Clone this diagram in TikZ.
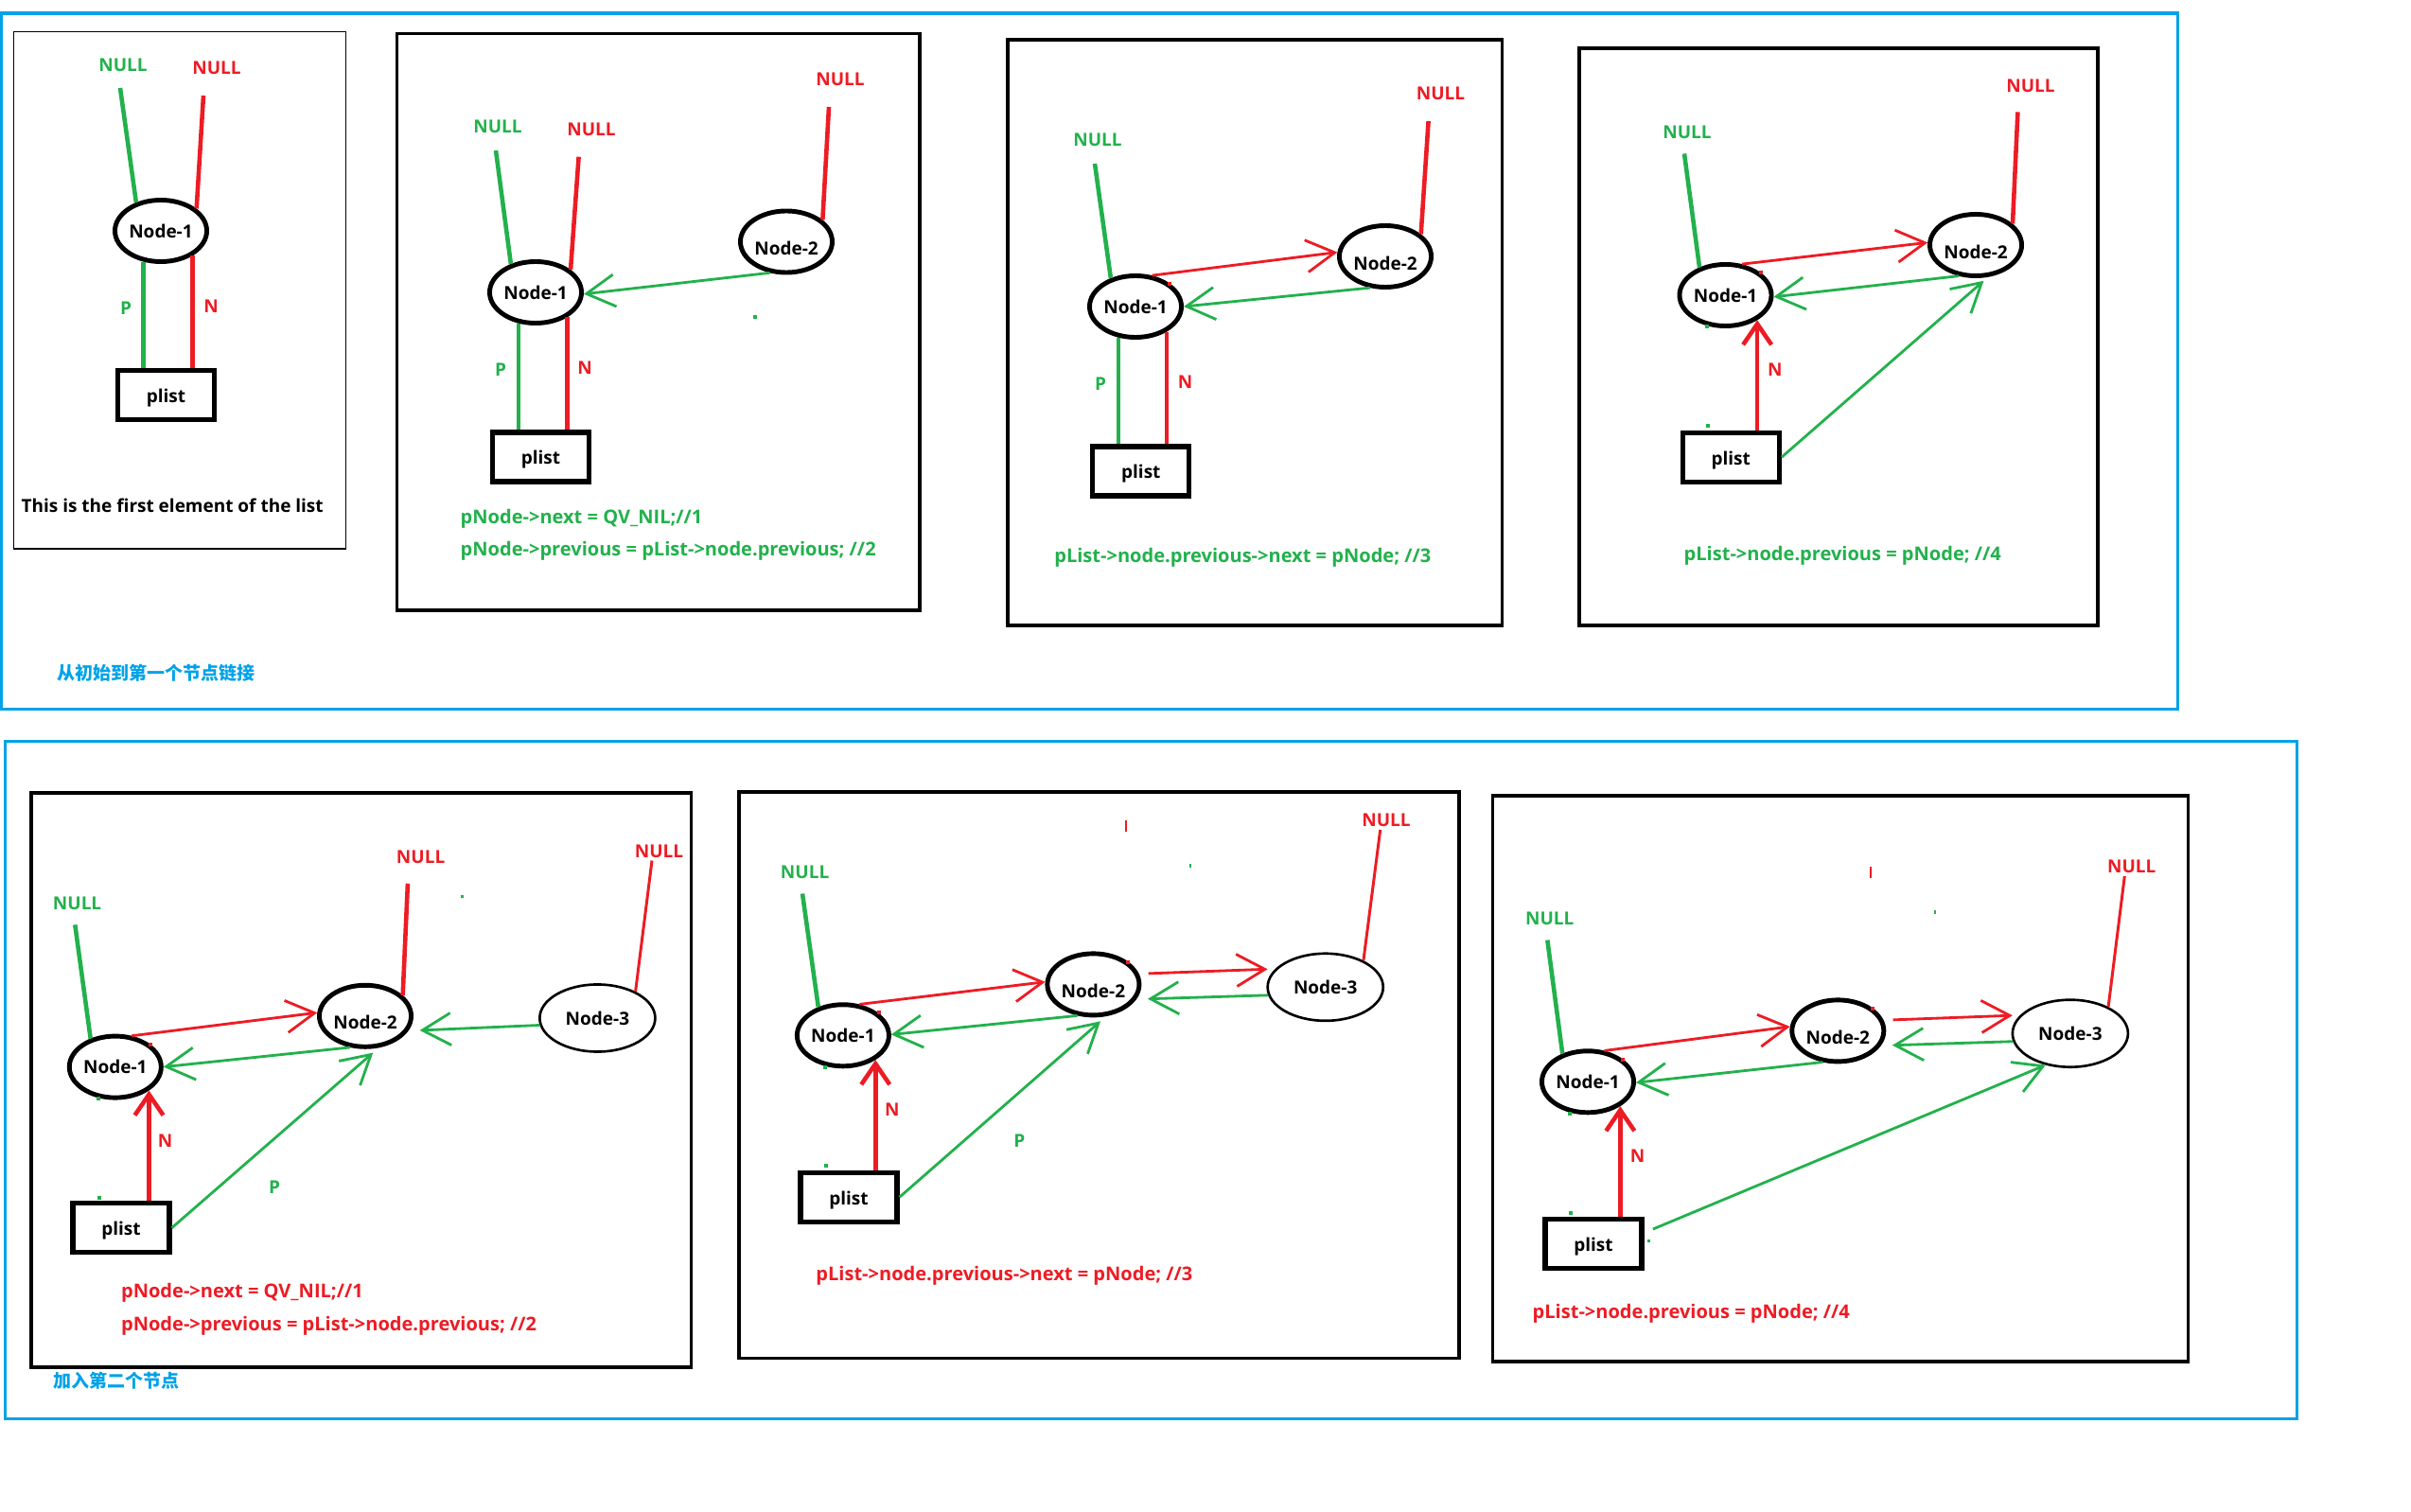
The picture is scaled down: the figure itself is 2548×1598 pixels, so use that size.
\documentclass[tikz,border=0pt]{standalone}
\usepackage{fontspec}
\setmainfont{Open Sans}
\newfontfamily\cjkfont{Noto Sans CJK SC}
\usetikzlibrary{shapes.geometric,arrows.meta}
\definecolor{pgreen}{RGB}{34,177,76}
\definecolor{pred}{RGB}{237,28,36}
\definecolor{pblue}{RGB}{0,162,232}
\newcommand\labfont{\fontsize{5.4}{6.5}\selectfont\bfseries}
\newcommand\codefont{\fontsize{5.7}{6.8}\selectfont\bfseries}
\begin{document}
\begin{tikzpicture}[x=0.01cm,y=-0.01cm,
  lbl/.style={font=\labfont, inner sep=0pt},
  gtxt/.style={lbl, text=pgreen},
  rtxt/.style={lbl, text=pred},
  codeline/.style={inner sep=0pt, anchor=west, font=\codefont},
  cjklabel/.style={inner sep=0pt, anchor=west, text=pblue, font=\cjkfont\fontsize{5.4}{6.5}\selectfont\bfseries},
  nd/.style={ellipse, draw, line width=1.4pt, minimum width=0.97cm, minimum height=0.65cm, inner sep=0pt, font=\labfont},
  ndlow/.style={nd, text height=8pt, text depth=0pt},
  ndthin/.style={ellipse, draw, line width=0.75pt, minimum width=1.22cm, minimum height=0.71cm, inner sep=0pt, font=\labfont},
  listbox/.style={draw, line width=1.5pt, minimum width=1.02cm, minimum height=0.52cm, inner sep=0pt, font=\labfont, text height=4.5pt, text depth=0pt},
  panelbox/.style={draw, line width=1pt},
  bluebox/.style={draw=pblue, line width=0.9pt},
  gthick/.style={pgreen, line width=1.3pt},
  rthick/.style={pred, line width=1.3pt},
  rthin/.style={pred, line width=0.85pt},
  barb/.style={-{Straight Barb[length=3mm,width=3.4mm]}},
  gptr/.style={pgreen, line width=0.8pt, barb},
  rptr/.style={pred, line width=0.8pt, barb},
  nptr/.style={pred, line width=1.3pt, -{Straight Barb[length=2.2mm,width=3mm]}},
  ]
\useasboundingbox (0,0) rectangle (2548,1598);

% ---------- outer frames ----------
\draw[bluebox] (1.5,14) rectangle (2301.3,749.3);
\draw[bluebox] (5.5,783.5) rectangle (2427.3,1499.3);
\node[cjklabel] (cap1) at (60,711.7) {从初始到第一个节点链接};
\node[cjklabel] (cap2) at (55.7,1459.5) {加入第二个节点};

% ---------- first element ----------
\draw[panelbox, line width=0.4pt] (14.3,33.7) rectangle (365.7,580);
\node[nd] (a1) at (170,244) {Node-1};
\node[listbox] (aL) at (175.5,417.5) {plist};
\node[gtxt] (aGN) at (130,69) {NULL};
\node[rtxt] (aRN) at (229,72) {NULL};
\coordinate (aGt) at (127,93);
\coordinate (aRt) at (215,101);
\draw[gthick] (aGt) -- (a1.131);
\draw[rthick] (aRt) -- (a1.32);
\draw[gthick] (a1.240) -- (a1.240 |- aL.north);
\draw[rthick] (a1.-38) -- (a1.-38 |- aL.north);
\node[gtxt] (aP) at (133,326) {P};
\node[rtxt] (aN) at (223,324) {N};
\node[lbl, anchor=west] (aCap) at (22,534) {This is the first element of the list};

% ---------- step 1,2 ----------
\draw[panelbox] (419.6,35.5) rectangle (972,645);
\node[nd] (b1) at (566,309) {Node-1};
\node[ndlow] (b2) at (831,255.5) {Node-2};
\node[listbox] (bL) at (571.5,483) {plist};
\node[gtxt] (bGN) at (526,133.5) {NULL};
\node[rtxt] (bRN) at (625,137) {NULL};
\node[rtxt] (bRN2) at (888,84) {NULL};
\coordinate (bGt) at (524,159);
\coordinate (bRt) at (611.6,165.7);
\coordinate (bR2t) at (876,113);
\draw[gthick] (bGt) -- (b1.131);
\draw[rthick] (bRt) -- (b1.33);
\draw[rthick] (bR2t) -- (b2.31);
\draw[gptr] (b2.242) -- (b1.-2);
\draw[gthick] (b1.241) -- (b1.241 |- bL.north);
\draw[rthick] (b1.-38) -- (b1.-38 |- bL.north);
\node[gtxt] (bP) at (529,391) {P};
\node[rtxt] (bN) at (618,389) {N};
\node[codeline, text=pgreen] (bC1) at (486,548) {pNode->next = QV\_NIL;//1};
\node[codeline, text=pgreen] (bC2) at (486,582) {pNode->previous = pList->node.previous; //2};
\fill[pgreen] (796,333) rectangle ++(4,4);

% ---------- step 3 ----------
\draw[panelbox] (1065,42) rectangle (1587.5,661);
\node[nd] (c1) at (1200,324) {Node-1};
\node[ndlow] (c2) at (1464,271) {Node-2};
\node[listbox] (cL) at (1205.8,498) {plist};
\node[gtxt] (cGN) at (1160,148) {NULL};
\node[rtxt] (cRN) at (1522.5,98.6) {NULL};
\coordinate (cGt) at (1157,173);
\coordinate (cRt) at (1509.6,128);
\draw[gthick] (cGt) -- (c1.131);
\draw[rthick] (cRt) -- (c2.32);
\draw[rptr] (c1.62) -- (c2.175);
\draw[gptr] (c2.244) -- (c1.0);
\draw[gthick] (c1.241) -- (c1.241 |- cL.north);
\draw[rthick] (c1.-39) -- (c1.-39 |- cL.north);
\node[gtxt] (cP) at (1163,406) {P};
\node[rtxt] (cN) at (1252.5,403.5) {N};
\node[codeline, text=pgreen] (cC1) at (1113.6,589) {pList->node.previous->next = pNode; //3};
\fill[pred] (1234,298) rectangle ++(4,4);

% ---------- step 4 ----------
\draw[panelbox] (1669,51) rectangle (2217,661);
\node[nd] (d1) at (1823.5,312) {Node-1};
\node[ndlow] (d2) at (2088,259) {Node-2};
\node[listbox] (dL) at (1829.2,483.2) {plist};
\node[gtxt] (dGN) at (1783,140) {NULL};
\node[rtxt] (dRN) at (2146,91) {NULL};
\coordinate (dGt) at (1780,162.4);
\coordinate (dRt) at (2132.4,118.4);
\draw[gthick] (dGt) -- (d1.133);
\draw[rthick] (dRt) -- (d2.30);
\draw[rptr] (d1.62) -- (d2.177);
\draw[gptr] (d2.241) -- (d1.-2);
\draw[gptr, shorten >=0.06cm] (dL.east) -- (d2.-69);
\draw[nptr] (d1.-38 |- dL.north) -- (d1.-38);
\node[rtxt] (dN) at (1875.7,391) {N};
\node[codeline, text=pgreen] (dC1) at (1779,587) {pList->node.previous = pNode; //4};
\fill[pgreen] (1802,343) rectangle ++(4,4);
\fill[pgreen] (1803.4,448) rectangle ++(4,4);
\fill[pred] (1858.5,285.8) rectangle ++(4,4);

% ---------- second node: step 1,2 ----------
\draw[panelbox] (33,838) rectangle (730.5,1445);
\node[nd] (e1) at (121.8,1127.6) {Node-1};
\node[ndlow] (e2) at (386,1073.8) {Node-2};
\node[ndthin] (e3) at (631.4,1076) {Node-3};
\node[listbox] (eL) at (127.9,1297.7) {plist};
\node[gtxt] (eGN) at (81.6,954.5) {NULL};
\node[rtxt] (eRN) at (444.6,906) {NULL};
\node[rtxt] (eRN3) at (696.5,900.3) {NULL};
\coordinate (eGt) at (79.3,977.4);
\coordinate (eRt) at (430.9,933.8);
\coordinate (eR3t) at (689,909.5);
\draw[gthick] (eGt) -- (e1.131);
\draw[rthick] (eRt) -- (e2.29);
\draw[rthin] (eR3t) -- (e3.35);
\draw[rptr] (e1.62) -- (e2.176);
\draw[gptr] (e2.244) -- (e1.0);
\draw[gptr, shorten >=0.12cm] (e3.187) -- (e2.-19);
\draw[gptr, shorten >=0.08cm] (eL.east) -- (e2.-67);
\draw[nptr] (e1.-35 |- eL.north) -- (e1.-35);
\node[rtxt] (eN) at (174.6,1205.6) {N};
\node[gtxt] (eP) at (290.2,1254.3) {P};
\node[codeline, text=pred] (eC1) at (127.4,1366.3) {pNode->next = QV\_NIL;//1};
\node[codeline, text=pred] (eC2) at (127.4,1400.8) {pNode->previous = pList->node.previous; //2};
\fill[pgreen] (101.8,1159) rectangle ++(4,4);
\fill[pgreen] (102.8,1263.8) rectangle ++(4,4);
\fill[pred] (157,1101.7) rectangle ++(4,4);
\fill[pgreen] (487,946) rectangle ++(3,3);

% ---------- second node: step 3 ----------
\draw[panelbox] (781,837) rectangle (1541.8,1435.5);
\node[nd] (f1) at (890.9,1094.3) {Node-1};
\node[ndlow] (f2) at (1155.4,1040.4) {Node-2};
\node[ndthin] (f3) at (1400.7,1043.3) {Node-3};
\node[listbox] (fL) at (896.9,1265.3) {plist};
\node[gtxt] (fGN) at (850.6,922) {NULL};
\node[rtxt] (fRN) at (1465,867) {NULL};
\coordinate (fGt) at (848,944.5);
\coordinate (fRt) at (1458.7,877);
\draw[gthick] (fGt) -- (f1.131);
\draw[rthin] (fRt) -- (f3.35);
\draw[rptr] (f1.62) -- (f2.177);
\draw[rptr, shorten <=0.1cm, shorten >=0.08cm] (f2.13) -- (f3.160);
\draw[gptr] (f2.243) -- (f1.1);
\draw[gptr, shorten >=0.12cm] (f3.188) -- (f2.-19);
\draw[gptr, shorten >=0.08cm] (fL.east) -- (f2.-68);
\draw[nptr] (f1.-37 |- fL.north) -- (f1.-37);
\node[rtxt] (fN) at (942.8,1173) {N};
\node[gtxt] (fP) at (1077.3,1205.7) {P};
\node[codeline, text=pred] (fC1) at (861.7,1347.8) {pList->node.previous->next = pNode; //3};
\draw[pred, line width=0.6pt] (1189.6,867) -- (1189.6,879);
\fill[pgreen] (1256.6,913) rectangle ++(2,4);
\fill[pgreen] (870.3,1126) rectangle ++(4,4);
\fill[pgreen] (871.3,1230) rectangle ++(4,4);
\fill[pred] (926.7,1067.8) rectangle ++(4,4);
\fill[pred] (1190,1015) rectangle ++(4,4);

% ---------- second node: step 4 ----------
\draw[panelbox] (1577.4,841) rectangle (2312.6,1439);
\node[nd] (g1) at (1678,1143.3) {Node-1};
\node[ndlow] (g2) at (1942.3,1089.4) {Node-2};
\node[ndthin] (g3) at (2187.9,1092.2) {Node-3};
\node[listbox] (gL) at (1684,1314.3) {plist};
\node[gtxt] (gGN) at (1637.8,971) {NULL};
\node[rtxt] (gRN) at (2252.7,916) {NULL};
\coordinate (gGt) at (1635.3,993.5);
\coordinate (gRt) at (2245.3,926);
\draw[gthick] (gGt) -- (g1.132);
\draw[rthin] (gRt) -- (g3.35);
\draw[rptr] (g1.62) -- (g2.175);
\draw[rptr, shorten <=0.1cm, shorten >=0.08cm] (g2.13) -- (g3.160);
\draw[gptr] (g2.244) -- (g1.-1);
\draw[gptr, shorten >=0.12cm] (g3.188) -- (g2.-19);
\draw[gptr, shorten <=0.1cm] (gL.12) -- (g3.232);
\draw[nptr] (g1.-37 |- gL.north) -- (g1.-37);
\node[rtxt] (gN) at (1730.6,1222) {N};
\node[codeline, text=pred] (gC1) at (1619,1388.6) {pList->node.previous = pNode; //4};
\draw[pred, line width=0.6pt] (1976.7,916) -- (1976.7,928);
\fill[pgreen] (2044,962) rectangle ++(2,4);
\fill[pgreen] (1657.4,1175) rectangle ++(4,4);
\fill[pgreen] (1658,1280.4) rectangle ++(4,4);
\fill[pgreen] (1741,1310) rectangle ++(3,3);
\fill[pred] (1713,1118) rectangle ++(4,4);
\fill[pred] (1977,1064) rectangle ++(4,4);
\end{tikzpicture}
\end{document}
